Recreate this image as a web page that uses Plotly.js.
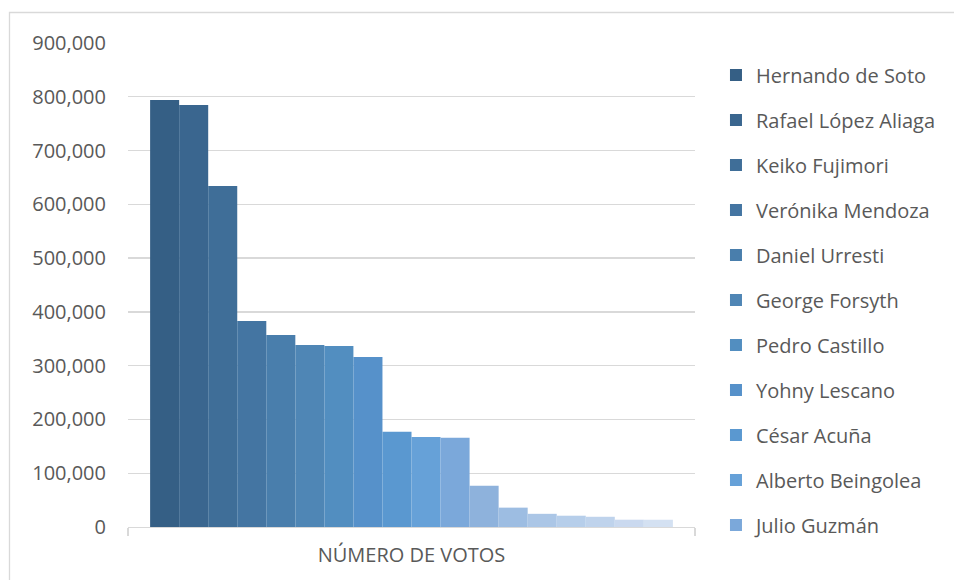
<!DOCTYPE html>
<html>
<head>
<meta charset="utf-8">
<script src="https://cdn.plot.ly/plotly-3.0.1.min.js"></script>
<style>html,body{margin:0;padding:0;background:#fff;}#chart{width:954px;height:580px;}</style>
</head>
<body>
<div id="chart"></div>
<script>
const category = ["NÚMERO DE VOTOS"];
const candidates = ["Hernando de Soto","Rafael López Aliaga","Keiko Fujimori","Verónika Mendoza","Daniel Urresti","George Forsyth","Pedro Castillo","Yohny Lescano","César Acuña","Alberto Beingolea","Julio Guzmán","Daniel Salaverry","Ollanta Humala","Marco Arana","José Vega","Rafael Santos","Ciro Gálvez","Andrés Alcántara"];
const votes = [794000,784500,634000,383000,357000,338500,336500,316000,177000,167500,166000,76500,36000,24500,21000,19000,13600,13500];
const colors = ["#355F85","#3A668F","#3F6E98","#4475A2","#497EAC","#4F86B5","#528EC0","#5691CA","#5A98D0","#66A1D8","#7BA8DA","#8EB2DC","#9DBDE2","#ABC6E6","#B6CEEA","#BFD3EC","#CAD9EF","#D4E1F2"];
const legendCount = 11;

const traces = candidates.map((name, i) => ({
  type: "bar",
  name: name,
  x: category,
  y: [votes[i]],
  marker: {color: colors[i], line: {width: 0}},
  legendgroup: "g" + i,
  showlegend: i < legendCount,
  hoverinfo: "name+y"
}));

const gridCol = "#d9d9d9";
const layout = {
  width: 954, height: 580,
  margin: {l: 128, r: 259, t: 43, b: 53},
  paper_bgcolor: "#ffffff",
  plot_bgcolor: "#ffffff",
  font: {family: "Open Sans, sans-serif", size: 20, color: "#595959"},
  barmode: "group",
  bargap: 0.078,
  bargroupgap: 0,
  xaxis: {
    type: "category",
    showline: true, linecolor: gridCol, linewidth: 1.3,
    ticks: "outside", tickson: "boundaries", ticklen: 8, tickcolor: gridCol, tickwidth: 1.3,
    ticklabelstandoff: 10,
    showgrid: false,
    tickfont: {size: 20, color: "#595959"},
    fixedrange: true
  },
  yaxis: {
    range: [0, 900000],
    dtick: 100000,
    tickformat: ",d",
    showgrid: true, gridcolor: gridCol, gridwidth: 1.4,
    zeroline: false, showline: false,
    ticks: "", ticklabelstandoff: 21,
    tickfont: {size: 20, color: "#595959"},
    fixedrange: true
  },
  legend: {
    x: 1.037, xanchor: "left",
    y: 0.974, yanchor: "top",
    traceorder: "grouped",
    tracegroupgap: 16,
    font: {size: 20, color: "#595959"},
    bgcolor: "rgba(0,0,0,0)"
  },
  shapes: [{
    type: "rect", xref: "paper", yref: "paper",
    x0: -0.209, x1: 1.6, y0: -0.3, y1: 1.063,
    line: {color: gridCol, width: 1.3}, fillcolor: "rgba(0,0,0,0)", layer: "below"
  }]
};

Plotly.newPlot("chart", traces, layout, {displayModeBar: false, staticPlot: true});
</script>
</body>
</html>
